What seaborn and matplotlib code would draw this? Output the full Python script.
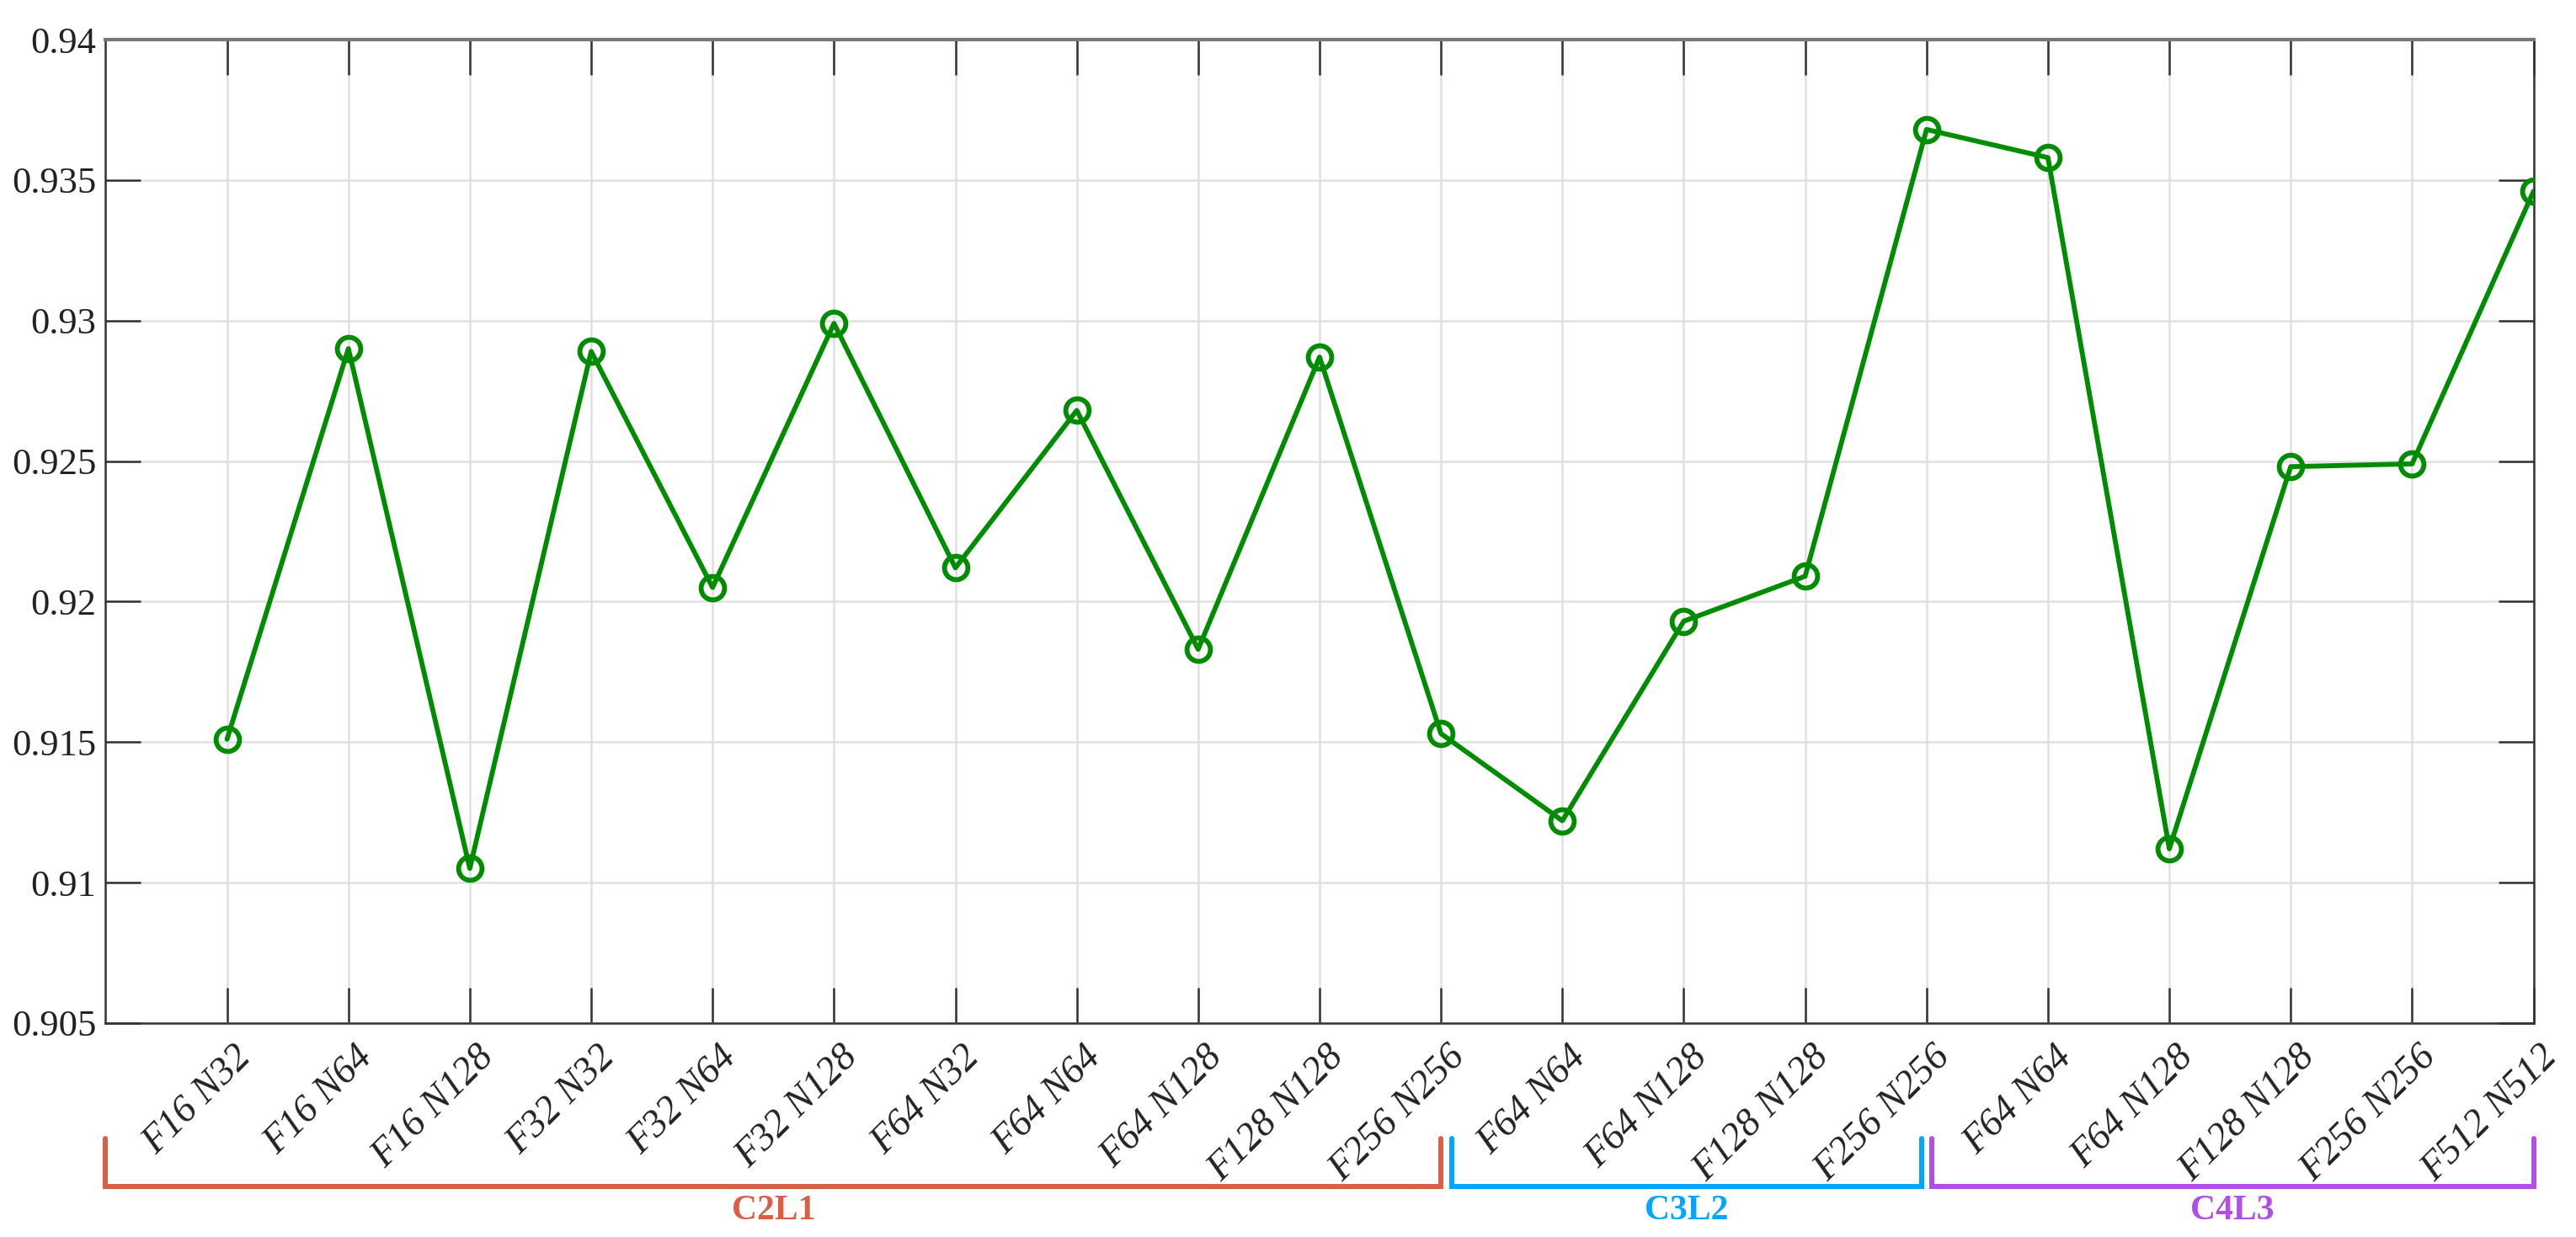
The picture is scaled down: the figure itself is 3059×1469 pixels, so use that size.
import numpy as np
import pandas as pd
import matplotlib
matplotlib.use('Agg')
import matplotlib.pyplot as plt
import matplotlib.transforms as mtransforms
import seaborn as sns

# Configuration labels (x axis) and measured score
configs = ['F16 N32', 'F16 N64', 'F16 N128', 'F32 N32', 'F32 N64', 'F32 N128',
           'F64 N32', 'F64 N64', 'F64 N128', 'F128 N128', 'F256 N256',
           'F64 N64', 'F64 N128', 'F128 N128', 'F256 N256',
           'F64 N64', 'F64 N128', 'F128 N128', 'F256 N256', 'F512 N512']
scores = [0.9151, 0.9290, 0.9105, 0.9289, 0.9205, 0.9299,
          0.9212, 0.9268, 0.9183, 0.9287, 0.9153,
          0.9122, 0.9193, 0.9209, 0.9368,
          0.9358, 0.9112, 0.9248, 0.9249, 0.9346]

# Groups: name and x-span of its bracket (in tick positions)
group_names = ['C2L1', 'C3L2', 'C4L3']
group_start = [0, 11.09, 15.04]
group_end = [11, 14.96, 20]
group_colors = ['#D95F47', '#00A6FF', '#B14EE6']

y_ticks = [0.905, 0.91, 0.915, 0.92, 0.925, 0.93, 0.935, 0.94]

sns.set_theme(style='white')
plt.rcParams['font.family'] = ['Liberation Serif', 'DejaVu Serif']

df = pd.DataFrame({'pos': np.arange(1, len(configs) + 1), 'score': scores})

fig = plt.figure(figsize=(30.59, 14.69), dpi=100)
ax = fig.add_axes([0.041, 0.173, 0.9425, 0.795])

sns.lineplot(data=df, x='pos', y='score', ax=ax, sort=False, color='#008C00',
             linewidth=4.2, marker='o', markersize=20, markerfacecolor='none',
             markeredgecolor='#008C00', markeredgewidth=4.2, zorder=3)

ax.set_xlim(0, len(configs))
ax.set_ylim(0.905, 0.94)
ax.set_xlabel('')
ax.set_ylabel('')

# MATLAB-like box with inward ticks and light grid
ax.grid(True, color='#e0e0e0', linewidth=1.8)
ax.tick_params(axis='both', direction='in', length=30, width=1.8, color='#333333',
               top=True, right=True, bottom=True, left=True)
ax.tick_params(axis='x', pad=14)
ax.tick_params(axis='y', pad=8)
for side in ['left', 'bottom', 'top', 'right']:
    ax.spines[side].set_visible(True)
    ax.spines[side].set_color('#333333')
    ax.spines[side].set_linewidth(1.8)
ax.spines['top'].set_color('#777777')
ax.spines['top'].set_linewidth(3)

ax.set_xticks(df['pos'])
ax.set_xticklabels(configs, rotation=45, ha='right', rotation_mode='anchor',
                   fontsize=33, fontstyle='italic', color='#222222')
ax.set_yticks(y_ticks)
ax.set_yticklabels([f'{t:g}' for t in y_ticks], fontsize=32, color='#222222')

# shift the rotated labels a little to the right, as in the original
offset = mtransforms.ScaledTranslation(0.07, 0.0, fig.dpi_scale_trans)
for lbl in ax.get_xticklabels():
    lbl.set_transform(lbl.get_transform() + offset)

# Group brackets below the tick labels
trans = mtransforms.blended_transform_factory(ax.transData, ax.transAxes)
y_top, y_bot = -0.117, -0.166
for name, x0, x1, col in zip(group_names, group_start, group_end, group_colors):
    ax.plot([x0, x0, x1, x1], [y_top, y_bot, y_bot, y_top], transform=trans,
            color=col, linewidth=4.3, clip_on=False, solid_joinstyle='miter')
    ax.text((x0 + x1) / 2, -0.191, name, transform=trans, color=col,
            fontsize=30, fontweight='bold', ha='center', va='center')

fig.savefig('out.png', dpi=100)
